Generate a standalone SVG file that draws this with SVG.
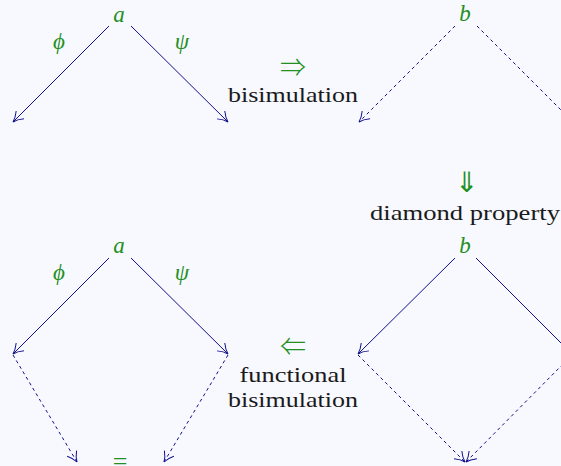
<svg xmlns="http://www.w3.org/2000/svg" width="561" height="466" viewBox="0 0 561 466">
<defs>
<style>
.bg{fill:#f8f8ff}
.lbl{font-family:'Liberation Serif','Times New Roman',Tinos,serif;font-size:22px;fill:#1a1a1a;text-anchor:middle}
.m{font-family:'Liberation Serif','Times New Roman',Tinos,serif;font-style:italic;font-size:23px;fill:#229022;text-anchor:middle}
.sym{font-family:'Noto Sans CJK JP','DejaVu Sans',sans-serif;font-weight:300;font-size:26px;fill:#229022;text-anchor:middle}
.e{fill:none;stroke:#10108a;stroke-width:1;marker-end:url(#ah)}
.d{stroke-dasharray:3.2 3.2}
</style>
<marker id="ah" markerUnits="userSpaceOnUse" orient="auto" markerWidth="14" markerHeight="14" refX="0" refY="0" viewBox="-11 -7 13 14" overflow="visible">
<path d="M -10 -5.5 C -6 -2.2 -2.5 -0.6 0 0 C -2.5 0.6 -6 2.2 -10 5.5" fill="none" stroke="#10108a" stroke-width="1"/>
</marker>
</defs>
<rect class="bg" x="0" y="0" width="561" height="466"/>
<g id="connectors">
<line class="e" x1="109" y1="26" x2="13" y2="122"/>
<line class="e" x1="131" y1="26" x2="228" y2="122"/>
<line class="e d" x1="455" y1="26" x2="359" y2="122"/>
<line class="e d" x1="477" y1="26" x2="573" y2="122"/>
<line class="e" x1="109" y1="258" x2="13" y2="354"/>
<line class="e" x1="131" y1="258" x2="228" y2="354"/>
<line class="e d" x1="13" y1="355" x2="77" y2="462"/>
<line class="e d" x1="228" y1="355" x2="164" y2="462"/>
<line class="e" x1="455" y1="258" x2="358" y2="354"/>
<line class="e" x1="476" y1="258" x2="572" y2="354"/>
<line class="e d" x1="358" y1="355" x2="465" y2="462"/>
<line class="e d" x1="572" y1="355" x2="466" y2="462"/>
</g>
<g id="a1"><text class="m" x="119" y="22">a</text></g>
<g id="phi1"><text class="m" x="59" y="49">ϕ</text></g>
<g id="psi1"><text class="m" x="182" y="49">ψ</text></g>
<g id="b1"><text class="m" x="465" y="21">b</text></g>
<g id="step1">
<text class="sym" x="293" y="77">⇒</text>
<text class="lbl" x="293" y="102" textLength="130" lengthAdjust="spacingAndGlyphs">bisimulation</text>
</g>
<g id="step2">
<text class="sym" x="466" y="192" style="font-size:28px">⇓</text>
<text class="lbl" x="465" y="220" textLength="190" lengthAdjust="spacingAndGlyphs">diamond property</text>
</g>
<g id="b2"><text class="m" x="465" y="253">b</text></g>
<g id="a2"><text class="m" x="119" y="253">a</text></g>
<g id="phi2"><text class="m" x="59" y="280">ϕ</text></g>
<g id="psi2"><text class="m" x="182" y="280">ψ</text></g>
<g id="step3">
<text class="sym" x="293" y="356">⇐</text>
<text class="lbl" x="293" y="382" textLength="107" lengthAdjust="spacingAndGlyphs">functional</text>
<text class="lbl" x="293" y="407" textLength="130" lengthAdjust="spacingAndGlyphs">bisimulation</text>
</g>
<g id="eq"><text class="m" x="120" y="470" style="font-style:normal;font-size:26px">=</text></g>
</svg>
